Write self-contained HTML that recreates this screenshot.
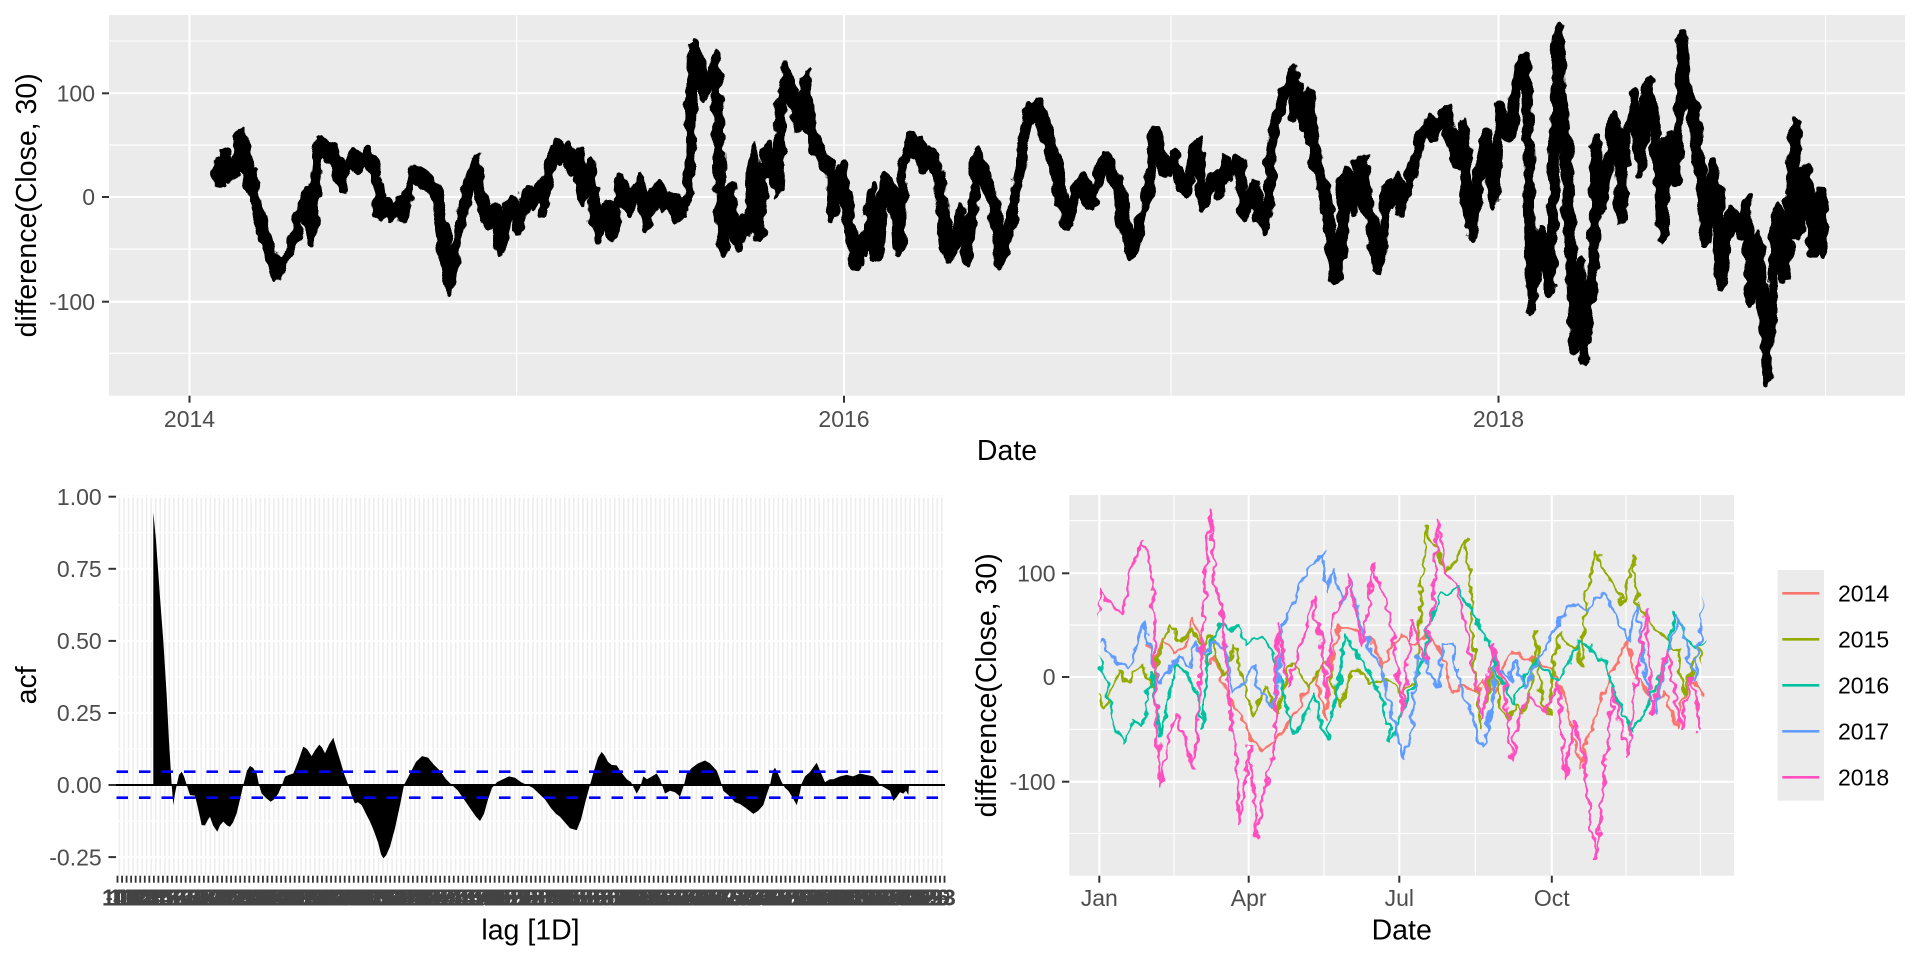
<!DOCTYPE html>
<html>
<head>
<meta charset="utf-8">
<title>chart</title>
<style>
html,body{margin:0;padding:0;background:#fff;width:1920px;height:960px;overflow:hidden}
svg{display:block}
text{font-family:"Liberation Sans",Arial,Helvetica,sans-serif}
</style>
</head>
<body>
<svg width="1920" height="960" viewBox="0 0 1920 960" xmlns="http://www.w3.org/2000/svg" xmlns:xlink="http://www.w3.org/1999/xlink">
<defs>
  <pattern id="slit" patternUnits="userSpaceOnUse" x="118.6" y="0" width="4.544" height="20">
    <rect x="0" y="0" width="1.6" height="20" fill="#EDEDED"/>
  </pattern>
  <pattern id="tk" patternUnits="userSpaceOnUse" x="116.6" y="0" width="4.544" height="20">
    <rect x="0" y="0" width="1.8" height="20" fill="#333333"/>
  </pattern>
  <filter id="jitTop" x="0" y="0" width="1920" height="420" filterUnits="userSpaceOnUse" primitiveUnits="userSpaceOnUse">
    <feTurbulence type="fractalNoise" baseFrequency="0.09 0.07" numOctaves="2" seed="5" result="n"/>
    <feDisplacementMap in="SourceGraphic" in2="n" scale="11" xChannelSelector="R" yChannelSelector="G"/>
  </filter>
  <filter id="jitBot" x="1060" y="480" width="700" height="410" filterUnits="userSpaceOnUse" primitiveUnits="userSpaceOnUse">
    <feTurbulence type="fractalNoise" baseFrequency="0.1 0.09" numOctaves="2" seed="11" result="n"/>
    <feDisplacementMap in="SourceGraphic" in2="n" scale="11" xChannelSelector="R" yChannelSelector="G"/>
  </filter>
  <clipPath id="y14" clipPathUnits="userSpaceOnUse"><rect x="189.5" y="-400" width="327.1" height="800"/></clipPath>
  <clipPath id="y15" clipPathUnits="userSpaceOnUse"><rect x="516.6" y="-400" width="327.1" height="800"/></clipPath>
  <clipPath id="y16" clipPathUnits="userSpaceOnUse"><rect x="843.7" y="-400" width="328" height="800"/></clipPath>
  <clipPath id="y17" clipPathUnits="userSpaceOnUse"><rect x="1171.7" y="-400" width="327.1" height="800"/></clipPath>
  <clipPath id="y18" clipPathUnits="userSpaceOnUse"><rect x="1498.8" y="-400" width="340" height="800"/></clipPath>
  <polyline id="ser" fill="none" vector-effect="non-scaling-stroke" stroke-linejoin="round" stroke-linecap="round" points="216,30 220,15 224,37 230,23 236,30 240,59 244,40 248,12 252,20 257,-11 263,-30 268,-45 272,-60 278,-72 284,-62 290,-49 296,-35 300,-17 307,2 312,-40 315,12 320,51 330,44 338,30 343,10 348,30 353,40 360,30 367,42 373,30 377,12 380,-14 387,-8 393,-15 398,-5 403,-17 408,5 412,24 420,20 427,14 433,8 437,1 443,-34 447,-60 450,-85 454,-60 457,-43 463,-11 470,14 475,34 480,1 485,-10 490,-24 496,-15 502,-49 507,-11 513,-5 520,-30 527,5 533,-5 540,11 545,-10 550,27 555,48 561,35 567,46 572,30 577,40 583,1 590,30 595,-11 600,-37 604,-20 607,-11 613,-34 620,14 625,5 630,-11 635,5 640,14 647,-27 652,0 657,8 663,-5 670,-2 675,-5 680,-17 685,-5 688,-5 690,53 693,143 697,130 700,120 705,100 710,115 715,131 718,79 720,-1 723,-49 727,-20 730,8 733,-20 737,-43 742,-25 746,-35 750,-17 753,44 756,-20 760,-35 763,20 767,44 772,25 775,30 778,8 780,79 786,122 790,100 793,95 797,80 800,69 806,114 808,70 812,60 817,47 822,40 827,30 830,27 833,-17 837,10 842,27 847,-5 853,-49 857,-62 862,-40 867,-49 872,5 877,-56 881,-20 885,14 889,5 893,-2 897,-20 900,-49 903,30 910,53 915,45 920,50 923,30 928,40 933,35 937,25 940,14 943,-17 947,-40 950,-56 955,-40 960,-17 963,-40 967,-59 970,-30 972,-17 977,40 980,30 983,24 988,10 993,-5 997,-24 1002,-62 1006,-40 1010,-24 1015,0 1020,24 1022,47 1028,82 1033,80 1038,87 1043,70 1048,57 1052,40 1057,24 1060,-1 1064,-10 1068,-24 1074,0 1080,14 1086,5 1093,-5 1099,20 1105,37 1111,25 1117,14 1120,0 1123,-17 1128,-35 1133,-52 1138,-35 1143,-17 1147,0 1150,14 1155,61 1160,40 1167,27 1173,37 1180,16 1188,7 1194,45 1197,51 1200,23 1204,-6 1210,10 1215,20 1221,7 1224,32 1228,20 1233,32 1240,29 1244,-16 1250,-3 1255,10 1259,-16 1266,-28 1269,-3 1271,48 1275,67 1280,87 1286,107 1290,112 1293,120 1295,83 1298,103 1304,71 1307,97 1313,50 1319,23 1324,10 1330,-35 1336,-76 1340,-63 1344,20 1348,16 1355,-12 1358,32 1362,32 1366,0 1370,-19 1374,-40 1377,-63 1380,-67 1383,-41 1386,10 1391,5 1394,-3 1397,16 1402,-9 1408,10 1413,29 1420,52 1425,65 1429,71 1435,61 1440,74 1446,81 1450,60 1454,48 1458,35 1463,68 1467,4 1470,-15 1473,-35 1477,10 1481,30 1485,58 1490,30 1494,-3 1497,40 1500,84 1505,70 1511,61 1515,100 1519,115 1522,130 1525,120 1527,102 1529,29 1530,-48 1532,-105 1536,-60 1540,-35 1545,-60 1550,-89 1553,-19 1555,55 1557,120 1559,159 1561,100 1565,60 1568,-3 1571,-54 1575,-141 1578,-100 1580,-67 1584,-153 1587,-120 1590,-99 1594,-61 1596,51 1598,20 1601,-9 1606,20 1611,51 1615,77 1619,30 1622,-19 1626,61 1630,70 1634,96 1638,60 1641,29 1644,60 1647,107 1650,90 1653,77 1657,48 1660,10 1663,-35 1668,55 1672,30 1676,16 1680,93 1682,151 1684,130 1687,100 1690,90 1693,84 1697,52 1701,7 1704,-20 1707,-41 1712,29 1715,10 1718,-3 1722,-83 1726,-40 1731,-16 1736,-25 1741,-35 1747,-6 1751,-99 1756,-41 1760,-67 1764,-124 1767,-174 1770,-140 1772,-99 1777,-13 1781,-40 1785,-76 1790,0 1795,66 1798,-35 1802,-5 1806,26 1810,-10 1814,-51 1819,1 1822,-20 1824,-51"/>
</defs>

<rect x="0" y="0" width="1920" height="960" fill="#ffffff"/>

<!-- ================= TOP PANEL ================= -->
<rect x="109" y="15" width="1796" height="380.7" fill="#EBEBEB"/>
<g stroke="#ffffff" stroke-width="1.1">
  <line x1="109" x2="1905" y1="41" y2="41"/>
  <line x1="109" x2="1905" y1="145.1" y2="145.1"/>
  <line x1="109" x2="1905" y1="249.1" y2="249.1"/>
  <line x1="109" x2="1905" y1="353.3" y2="353.3"/>
  <line x1="516.6" x2="516.6" y1="15" y2="395.7"/>
  <line x1="1171" x2="1171" y1="15" y2="395.7"/>
  <line x1="1825.5" x2="1825.5" y1="15" y2="395.7"/>
</g>
<g stroke="#ffffff" stroke-width="2.1">
  <line x1="109" x2="1905" y1="93.3" y2="93.3"/>
  <line x1="109" x2="1905" y1="197" y2="197"/>
  <line x1="109" x2="1905" y1="301.7" y2="301.7"/>
  <line x1="189.5" x2="189.5" y1="15" y2="395.7"/>
  <line x1="844" x2="844" y1="15" y2="395.7"/>
  <line x1="1498.5" x2="1498.5" y1="15" y2="395.7"/>
</g>
<g filter="url(#jitTop)">
  <g transform="translate(0,197) scale(1,-1.042)">
    <use href="#ser" xlink:href="#ser" stroke="#000000" stroke-width="10.5"/>
  </g>
  <g transform="translate(1.5,192) scale(1,-1.042)">
    <use href="#ser" xlink:href="#ser" stroke="#000000" stroke-width="8"/>
  </g>
  <g transform="translate(-1.5,202) scale(1,-1.042)">
    <use href="#ser" xlink:href="#ser" stroke="#000000" stroke-width="8"/>
  </g>
</g>
<g stroke="#333333" stroke-width="2">
  <line x1="102" x2="109" y1="93.3" y2="93.3"/>
  <line x1="102" x2="109" y1="197" y2="197"/>
  <line x1="102" x2="109" y1="301.7" y2="301.7"/>
  <line x1="189.5" x2="189.5" y1="395.7" y2="402.7"/>
  <line x1="844" x2="844" y1="395.7" y2="402.7"/>
  <line x1="1498.5" x2="1498.5" y1="395.7" y2="402.7"/>
</g>
<g font-size="23" fill="#4D4D4D">
  <text x="95" y="101.5" text-anchor="end">100</text>
  <text x="95" y="205.2" text-anchor="end">0</text>
  <text x="95" y="309.9" text-anchor="end">-100</text>
  <text x="189.5" y="427" text-anchor="middle">2014</text>
  <text x="844" y="427" text-anchor="middle">2016</text>
  <text x="1498.5" y="427" text-anchor="middle">2018</text>
</g>
<text x="1007" y="460" font-size="28.5" fill="#000" text-anchor="middle">Date</text>
<text transform="translate(36,205.3) rotate(-90)" font-size="28.5" fill="#000" text-anchor="middle">difference(Close, 30)</text>

<!-- ================= BOTTOM LEFT (ACF) ================= -->
<rect x="116" y="495" width="829" height="380.7" fill="#ffffff"/>
<rect x="116" y="495" width="829" height="380.7" fill="url(#slit)"/>
<g stroke="#ffffff" stroke-width="1.1">
  <line x1="116" x2="945" y1="532.7" y2="532.7"/>
  <line x1="116" x2="945" y1="604.9" y2="604.9"/>
  <line x1="116" x2="945" y1="677" y2="677"/>
  <line x1="116" x2="945" y1="749" y2="749"/>
  <line x1="116" x2="945" y1="821.1" y2="821.1"/>
</g>
<g stroke="#ffffff" stroke-width="2.1">
  <line x1="116" x2="945" y1="496.7" y2="496.7"/>
  <line x1="116" x2="945" y1="568.8" y2="568.8"/>
  <line x1="116" x2="945" y1="640.9" y2="640.9"/>
  <line x1="116" x2="945" y1="713" y2="713"/>
  <line x1="116" x2="945" y1="857.1" y2="857.1"/>
</g>
<g transform="translate(0,785) scale(1,-288.3)">
<path fill="#000000" d="M153.3,0 L153.3,0.946 156,0.85 160,0.65 163.3,0.5 166.7,0.31 169,0.15 171.7,0 173.3,-0.07 175,-0.03 176.7,0 179,0.035 181.7,0.046 184,0.03 186.7,0 190,-0.035 195,-0.037 198,-0.08 201.7,-0.139 205,-0.14 208,-0.12 210,-0.11 213,-0.14 217.3,-0.162 220,-0.14 223.3,-0.127 227,-0.14 230,-0.145 233,-0.13 236.7,-0.098 240,-0.05 243.3,0 247,0.05 250,0.066 253,0.06 256.7,0.04 259,0 261.7,-0.03 266,-0.045 270.7,-0.058 274,-0.05 278.3,-0.03 282,0 285,0.029 289,0.035 293.3,0.04 298,0.08 303.3,0.133 307,0.125 311.7,0.1 315,0.12 319.3,0.14 322,0.13 325,0.11 329,0.14 333.3,0.164 337,0.12 340,0.087 344,0.04 348.3,0 352,-0.04 355,-0.064 358,-0.06 361.7,-0.07 366,-0.1 370,-0.127 374,-0.16 378.3,-0.202 381,-0.24 383.3,-0.254 386,-0.245 390,-0.214 395,-0.15 400,-0.07 404,0 410,0.04 416,0.08 422,0.1 428,0.095 434,0.07 440,0.05 446,0.02 452,0 458,-0.02 464,-0.05 470,-0.08 476,-0.11 480,-0.125 484,-0.1 488,-0.05 492,-0.01 497,0.01 503,0.02 509,0.03 515,0.025 521,0.01 527,0 533,-0.01 539,-0.03 545,-0.05 551,-0.08 556,-0.1 560,-0.11 565,-0.13 570,-0.15 576.7,-0.157 581,-0.12 586,-0.05 590,0 594,0.05 598,0.095 601.7,0.115 605,0.1 608,0.08 611.7,0.07 616.7,0.068 620,0.05 626.7,0.02 631,0.01 636.7,-0.03 640,-0.01 643.3,0.03 647,0.02 652,0.03 656.7,0.04 660,0.02 665,-0.03 670,-0.02 675,-0.025 680,-0.04 684,0 686.7,0.04 692,0.06 698,0.075 705,0.085 710,0.075 716.7,0.05 720,0.02 723.3,-0.02 730,-0.04 735,-0.06 740,-0.066 746,-0.08 753.3,-0.1 758,-0.09 763.3,-0.07 767,-0.03 770,0 773,0.05 775,0.06 778,0.04 781.7,0.01 785,-0.01 788.3,-0.02 792,-0.04 796.7,-0.07 799,-0.04 801.7,0.005 805,0.03 810,0.045 813,0.06 816.7,0.077 820,0.05 825,0.01 830,0.02 833.3,0.02 840,0.03 846.7,0.035 853,0.03 860,0.04 866,0.035 873.3,0.03 877,0.015 880,0 885,-0.01 890,-0.02 893.3,-0.055 896,-0.045 900,-0.025 903.3,-0.03 906,-0.02 908.3,-0.035 909,0 Z"/>
</g>
<line x1="116" x2="945" y1="785" y2="785" stroke="#000000" stroke-width="2"/>
<g stroke="#0000FF" stroke-width="2.7" stroke-dasharray="11.5 11">
  <line x1="116.5" x2="945" y1="771.7" y2="771.7"/>
  <line x1="116.5" x2="945" y1="797.7" y2="797.7"/>
</g>
<g stroke="#333333" stroke-width="2">
  <line x1="108.5" x2="116" y1="496.7" y2="496.7"/>
  <line x1="108.5" x2="116" y1="568.8" y2="568.8"/>
  <line x1="108.5" x2="116" y1="640.9" y2="640.9"/>
  <line x1="108.5" x2="116" y1="713" y2="713"/>
  <line x1="108.5" x2="116" y1="785" y2="785"/>
  <line x1="108.5" x2="116" y1="857.1" y2="857.1"/>
</g>
<rect x="116" y="875.7" width="829.5" height="7" fill="url(#tk)"/>
<g font-size="23" fill="#4D4D4D">
  <text x="101.7" y="504.9" text-anchor="end">1.00</text>
  <text x="101.7" y="577" text-anchor="end">0.75</text>
  <text x="101.7" y="649.1" text-anchor="end">0.50</text>
  <text x="101.7" y="721.2" text-anchor="end">0.25</text>
  <text x="101.7" y="793.2" text-anchor="end">0.00</text>
  <text x="101.7" y="865.3" text-anchor="end">-0.25</text>
</g>
<g font-size="23" fill="#444444">
<text x="102" y="905.5" font-weight="bold"><tspan>100</tspan><tspan dx="-31.48">107</tspan><tspan dx="-31.48">114</tspan><tspan dx="-31.48">121</tspan><tspan dx="-31.48">128</tspan><tspan dx="-31.48">135</tspan><tspan dx="-31.48">142</tspan><tspan dx="-31.48">149</tspan><tspan dx="-31.48">156</tspan><tspan dx="-31.48">163</tspan><tspan dx="-31.48">170</tspan><tspan dx="-31.48">177</tspan><tspan dx="-31.48">184</tspan><tspan dx="-31.48">191</tspan><tspan dx="-31.48">198</tspan><tspan dx="-31.48">205</tspan><tspan dx="-31.48">212</tspan><tspan dx="-31.48">219</tspan><tspan dx="-31.48">226</tspan><tspan dx="-31.48">233</tspan><tspan dx="-31.48">240</tspan><tspan dx="-31.48">247</tspan><tspan dx="-31.48">254</tspan><tspan dx="-31.48">261</tspan><tspan dx="-31.48">268</tspan><tspan dx="-31.48">275</tspan><tspan dx="-31.48">282</tspan><tspan dx="-31.48">289</tspan><tspan dx="-31.48">296</tspan><tspan dx="-31.48">303</tspan><tspan dx="-31.48">310</tspan><tspan dx="-31.48">317</tspan><tspan dx="-31.48">324</tspan><tspan dx="-31.48">331</tspan><tspan dx="-31.48">338</tspan><tspan dx="-31.48">345</tspan><tspan dx="-31.48">352</tspan><tspan dx="-31.48">359</tspan><tspan dx="-31.48">366</tspan><tspan dx="-31.48">373</tspan><tspan dx="-31.48">380</tspan><tspan dx="-31.48">387</tspan><tspan dx="-31.48">394</tspan><tspan dx="-31.48">401</tspan><tspan dx="-31.48">408</tspan><tspan dx="-31.48">415</tspan><tspan dx="-31.48">422</tspan><tspan dx="-31.48">429</tspan><tspan dx="-31.48">436</tspan><tspan dx="-31.48">443</tspan><tspan dx="-31.48">450</tspan><tspan dx="-31.48">457</tspan><tspan dx="-31.48">464</tspan><tspan dx="-31.48">471</tspan><tspan dx="-31.48">478</tspan><tspan dx="-31.48">485</tspan><tspan dx="-31.48">492</tspan><tspan dx="-31.48">499</tspan><tspan dx="-31.48">506</tspan><tspan dx="-31.48">513</tspan><tspan dx="-31.48">520</tspan><tspan dx="-31.48">527</tspan><tspan dx="-31.48">534</tspan><tspan dx="-31.48">541</tspan><tspan dx="-31.48">548</tspan><tspan dx="-31.48">555</tspan><tspan dx="-31.48">562</tspan><tspan dx="-31.48">569</tspan><tspan dx="-31.48">576</tspan><tspan dx="-31.48">583</tspan><tspan dx="-31.48">590</tspan><tspan dx="-31.48">597</tspan><tspan dx="-31.48">604</tspan><tspan dx="-31.48">611</tspan><tspan dx="-31.48">618</tspan><tspan dx="-31.48">625</tspan><tspan dx="-31.48">632</tspan><tspan dx="-31.48">639</tspan><tspan dx="-31.48">646</tspan><tspan dx="-31.48">653</tspan><tspan dx="-31.48">660</tspan><tspan dx="-31.48">667</tspan><tspan dx="-31.48">674</tspan><tspan dx="-31.48">681</tspan><tspan dx="-31.48">688</tspan><tspan dx="-31.48">695</tspan><tspan dx="-31.48">702</tspan><tspan dx="-31.48">709</tspan><tspan dx="-31.48">716</tspan><tspan dx="-31.48">723</tspan><tspan dx="-31.48">730</tspan><tspan dx="-31.48">737</tspan><tspan dx="-31.48">744</tspan><tspan dx="-31.48">751</tspan><tspan dx="-31.48">758</tspan><tspan dx="-31.48">765</tspan><tspan dx="-31.48">772</tspan><tspan dx="-31.48">779</tspan><tspan dx="-31.48">786</tspan><tspan dx="-31.48">793</tspan><tspan dx="-31.48">800</tspan><tspan dx="-31.48">807</tspan><tspan dx="-31.48">814</tspan><tspan dx="-31.48">821</tspan><tspan dx="-31.48">828</tspan><tspan dx="-31.48">835</tspan><tspan dx="-31.48">842</tspan><tspan dx="-31.48">849</tspan><tspan dx="-31.48">856</tspan><tspan dx="-31.48">863</tspan><tspan dx="-31.48">870</tspan><tspan dx="-31.48">877</tspan><tspan dx="-31.48">884</tspan><tspan dx="-31.48">891</tspan><tspan dx="-31.48">898</tspan><tspan dx="-31.48">905</tspan><tspan dx="-31.48">912</tspan><tspan dx="-31.48">919</tspan><tspan dx="-31.48">926</tspan><tspan dx="-31.48">933</tspan></text>
<text x="105.4" y="905.5"><tspan>-42</tspan><tspan dx="-26.45">110</tspan><tspan dx="-31.48">117</tspan><tspan dx="-31.48">124</tspan><tspan dx="-31.48">131</tspan><tspan dx="-31.48">138</tspan><tspan dx="-31.48">145</tspan><tspan dx="-31.48">152</tspan><tspan dx="-31.48">159</tspan><tspan dx="-31.48">166</tspan><tspan dx="-31.48">173</tspan><tspan dx="-31.48">180</tspan><tspan dx="-31.48">187</tspan><tspan dx="-31.48">194</tspan><tspan dx="-31.48">201</tspan><tspan dx="-31.48">208</tspan><tspan dx="-31.48">215</tspan><tspan dx="-31.48">222</tspan><tspan dx="-31.48">229</tspan><tspan dx="-31.48">236</tspan><tspan dx="-31.48">243</tspan><tspan dx="-31.48">250</tspan><tspan dx="-31.48">257</tspan><tspan dx="-31.48">264</tspan><tspan dx="-31.48">271</tspan><tspan dx="-31.48">278</tspan><tspan dx="-31.48">285</tspan><tspan dx="-31.48">292</tspan><tspan dx="-31.48">299</tspan><tspan dx="-31.48">306</tspan><tspan dx="-31.48">313</tspan><tspan dx="-31.48">320</tspan><tspan dx="-31.48">327</tspan><tspan dx="-31.48">334</tspan><tspan dx="-31.48">341</tspan><tspan dx="-31.48">348</tspan><tspan dx="-31.48">355</tspan><tspan dx="-31.48">362</tspan><tspan dx="-31.48">369</tspan><tspan dx="-31.48">376</tspan><tspan dx="-31.48">383</tspan><tspan dx="-31.48">390</tspan><tspan dx="-31.48">397</tspan><tspan dx="-31.48">404</tspan><tspan dx="-31.48">411</tspan><tspan dx="-31.48">418</tspan><tspan dx="-31.48">425</tspan><tspan dx="-31.48">432</tspan><tspan dx="-31.48">439</tspan><tspan dx="-31.48">446</tspan><tspan dx="-31.48">453</tspan><tspan dx="-31.48">460</tspan><tspan dx="-31.48">467</tspan><tspan dx="-31.48">474</tspan><tspan dx="-31.48">481</tspan><tspan dx="-31.48">488</tspan><tspan dx="-31.48">495</tspan><tspan dx="-31.48">502</tspan><tspan dx="-31.48">509</tspan><tspan dx="-31.48">516</tspan><tspan dx="-31.48">523</tspan><tspan dx="-31.48">530</tspan><tspan dx="-31.48">537</tspan><tspan dx="-31.48">544</tspan><tspan dx="-31.48">551</tspan><tspan dx="-31.48">558</tspan><tspan dx="-31.48">565</tspan><tspan dx="-31.48">572</tspan><tspan dx="-31.48">579</tspan><tspan dx="-31.48">586</tspan><tspan dx="-31.48">593</tspan><tspan dx="-31.48">600</tspan><tspan dx="-31.48">607</tspan><tspan dx="-31.48">614</tspan><tspan dx="-31.48">621</tspan><tspan dx="-31.48">628</tspan><tspan dx="-31.48">635</tspan><tspan dx="-31.48">642</tspan><tspan dx="-31.48">649</tspan><tspan dx="-31.48">656</tspan><tspan dx="-31.48">663</tspan><tspan dx="-31.48">670</tspan><tspan dx="-31.48">677</tspan><tspan dx="-31.48">684</tspan><tspan dx="-31.48">691</tspan><tspan dx="-31.48">698</tspan><tspan dx="-31.48">705</tspan><tspan dx="-31.48">712</tspan><tspan dx="-31.48">719</tspan><tspan dx="-31.48">726</tspan><tspan dx="-31.48">733</tspan><tspan dx="-31.48">740</tspan><tspan dx="-31.48">747</tspan><tspan dx="-31.48">754</tspan><tspan dx="-31.48">761</tspan><tspan dx="-31.48">768</tspan><tspan dx="-31.48">775</tspan><tspan dx="-31.48">782</tspan><tspan dx="-31.48">789</tspan><tspan dx="-31.48">796</tspan><tspan dx="-31.48">803</tspan><tspan dx="-31.48">810</tspan><tspan dx="-31.48">817</tspan><tspan dx="-31.48">824</tspan><tspan dx="-31.48">831</tspan><tspan dx="-31.48">838</tspan><tspan dx="-31.48">845</tspan><tspan dx="-31.48">852</tspan><tspan dx="-31.48">859</tspan><tspan dx="-31.48">866</tspan><tspan dx="-31.48">873</tspan><tspan dx="-31.48">880</tspan><tspan dx="-31.48">887</tspan><tspan dx="-31.48">894</tspan><tspan dx="-31.48">901</tspan><tspan dx="-31.48">908</tspan><tspan dx="-31.48">915</tspan><tspan dx="-31.48">922</tspan><tspan dx="-31.48">929</tspan></text>
</g>
<text x="530.5" y="939.5" font-size="28.5" fill="#000" text-anchor="middle">lag [1D]</text>
<text transform="translate(36,685.3) rotate(-90)" font-size="28.5" fill="#000" text-anchor="middle">acf</text>

<!-- ================= BOTTOM RIGHT (season) ================= -->
<rect x="1069.3" y="495" width="664.7" height="380.7" fill="#EBEBEB"/>
<g stroke="#ffffff" stroke-width="1.1">
  <line x1="1069.3" x2="1734" y1="520.7" y2="520.7"/>
  <line x1="1069.3" x2="1734" y1="625.1" y2="625.1"/>
  <line x1="1069.3" x2="1734" y1="729.4" y2="729.4"/>
  <line x1="1069.3" x2="1734" y1="833.5" y2="833.5"/>
  <line x1="1174" x2="1174" y1="495" y2="875.7"/>
  <line x1="1324" x2="1324" y1="495" y2="875.7"/>
  <line x1="1475.4" x2="1475.4" y1="495" y2="875.7"/>
  <line x1="1626" x2="1626" y1="495" y2="875.7"/>
  <line x1="1700.4" x2="1700.4" y1="495" y2="875.7"/>
</g>
<g stroke="#ffffff" stroke-width="2.1">
  <line x1="1069.3" x2="1734" y1="573.3" y2="573.3"/>
  <line x1="1069.3" x2="1734" y1="677" y2="677"/>
  <line x1="1069.3" x2="1734" y1="781.7" y2="781.7"/>
  <line x1="1099.3" x2="1099.3" y1="495" y2="875.7"/>
  <line x1="1248.7" x2="1248.7" y1="495" y2="875.7"/>
  <line x1="1399.3" x2="1399.3" y1="495" y2="875.7"/>
  <line x1="1551.8" x2="1551.8" y1="495" y2="875.7"/>
</g>
<g filter="url(#jitBot)">
<g transform="translate(749.35,677) scale(1.8467,-1.042)"><g clip-path="url(#y14)"><use href="#ser" xlink:href="#ser" stroke="#F8766D" stroke-width="2.6"/></g></g>
<g transform="translate(145.3,677) scale(1.8467,-1.042)"><g clip-path="url(#y15)"><use href="#ser" xlink:href="#ser" stroke="#93AA00" stroke-width="2.6"/></g></g>
<g transform="translate(-458.76,677) scale(1.8467,-1.042)"><g clip-path="url(#y16)"><use href="#ser" xlink:href="#ser" stroke="#00C19F" stroke-width="2.6"/></g></g>
<g transform="translate(-1064.48,677) scale(1.8467,-1.042)"><g clip-path="url(#y17)"><use href="#ser" xlink:href="#ser" stroke="#619CFF" stroke-width="2.6"/></g></g>
<g transform="translate(-1668.53,677) scale(1.8467,-1.042)"><g clip-path="url(#y18)"><use href="#ser" xlink:href="#ser" stroke="#FF4FBE" stroke-width="2.6"/></g></g>
</g>
<g stroke="#333333" stroke-width="2">
  <line x1="1062" x2="1069.3" y1="573.3" y2="573.3"/>
  <line x1="1062" x2="1069.3" y1="677" y2="677"/>
  <line x1="1062" x2="1069.3" y1="781.7" y2="781.7"/>
  <line x1="1099.3" x2="1099.3" y1="875.7" y2="882.7"/>
  <line x1="1248.7" x2="1248.7" y1="875.7" y2="882.7"/>
  <line x1="1399.3" x2="1399.3" y1="875.7" y2="882.7"/>
  <line x1="1551.8" x2="1551.8" y1="875.7" y2="882.7"/>
</g>
<g font-size="23" fill="#4D4D4D">
  <text x="1055.5" y="581.5" text-anchor="end">100</text>
  <text x="1055.5" y="685.2" text-anchor="end">0</text>
  <text x="1055.5" y="789.9" text-anchor="end">-100</text>
  <text x="1099.3" y="906" text-anchor="middle">Jan</text>
  <text x="1248.7" y="906" text-anchor="middle">Apr</text>
  <text x="1399.3" y="906" text-anchor="middle">Jul</text>
  <text x="1551.8" y="906" text-anchor="middle">Oct</text>
</g>
<text x="1401.7" y="939.5" font-size="28.5" fill="#000" text-anchor="middle">Date</text>
<text transform="translate(996,685.3) rotate(-90)" font-size="28.5" fill="#000" text-anchor="middle">difference(Close, 30)</text>

<!-- legend -->
<rect x="1777.7" y="570" width="46.3" height="230.7" fill="#EBEBEB"/>
<g stroke-width="2.7">
  <line x1="1782.3" x2="1819.3" y1="593.3" y2="593.3" stroke="#F8766D"/>
  <line x1="1782.3" x2="1819.3" y1="639.3" y2="639.3" stroke="#93AA00"/>
  <line x1="1782.3" x2="1819.3" y1="685.3" y2="685.3" stroke="#00C19F"/>
  <line x1="1782.3" x2="1819.3" y1="731.3" y2="731.3" stroke="#619CFF"/>
  <line x1="1782.3" x2="1819.3" y1="777.3" y2="777.3" stroke="#FF4FBE"/>
</g>
<g font-size="23" fill="#000">
  <text x="1838" y="601.5">2014</text>
  <text x="1838" y="647.5">2015</text>
  <text x="1838" y="693.5">2016</text>
  <text x="1838" y="739.5">2017</text>
  <text x="1838" y="785.5">2018</text>
</g>
</svg>
</body>
</html>
